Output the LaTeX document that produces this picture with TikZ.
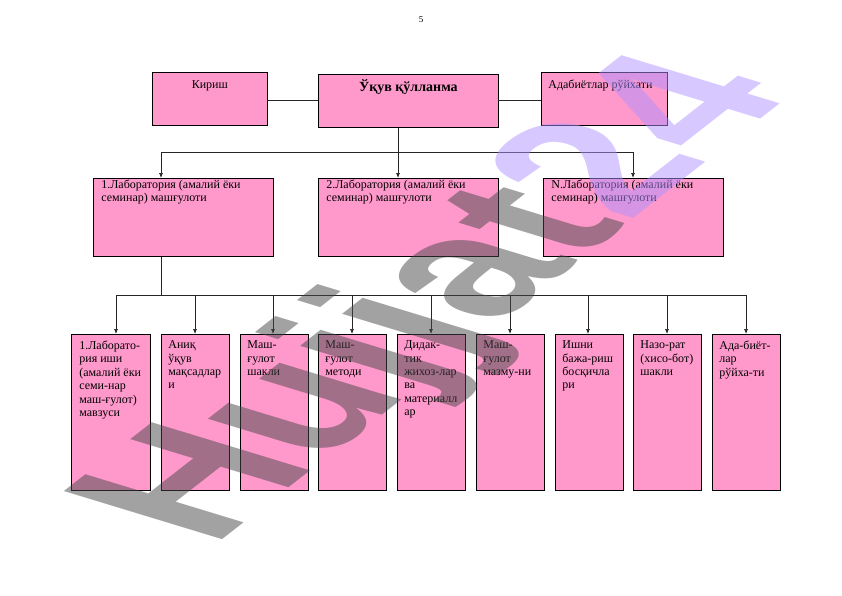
\documentclass[tikz,border=0pt]{standalone}
\usepackage{fontspec}
\setmainfont{Liberation Serif}
\newfontfamily\wmfont{Liberation Sans}
\usetikzlibrary{arrows.meta}
\definecolor{boxpink}{RGB}{255,153,204}
\definecolor{wmgray}{RGB}{70,70,70}
\definecolor{wmlav}{RGB}{175,145,255}
% #1 width, #2 height, #3 left indent, #4 top space, #5 text
\newcommand{\bxt}[5]{\parbox[c][#2][t]{#1}{\raggedright\leftskip=#3\relax\vspace*{#4}#5\par}}
\tikzset{
  box/.style={draw=black, line width=0.7pt, fill=boxpink, inner sep=0pt, anchor=north west, font=\fontsize{12}{12.3}\selectfont},
  lowbox/.style={box, font=\fontsize{12}{13.4}\selectfont},
  ln/.style={draw=black!85, line width=0.7pt},
  arr/.style={ln, -{Latex[length=5pt,width=4pt]}}
}
\begin{document}
\begin{tikzpicture}[x=1pt,y=-1pt]
\useasboundingbox (0,0) rectangle (842,596);
\node (pg) at (421,20) {\fontsize{9}{10}\selectfont 5};
% top row
\node[box] (kir) at (152,72) {\bxt{115pt}{53pt}{0pt}{8pt}{\centering Кириш}};
\node[box] (main) at (318,74) {\bxt{180pt}{53pt}{0pt}{5pt}{\centering\fontsize{14}{16}\selectfont\bfseries Ўқув қўлланма}};
\node[box] (adab) at (541,72) {\bxt{126pt}{53pt}{7pt}{7.5pt}{Адабиётлар рўйхати}};
% middle row
\node[box] (m1) at (93,178) {\bxt{180pt}{78pt}{8pt}{2pt}{1.Лаборатория (амалий ёки\\семинар) машғулоти}};
\node[box] (m2) at (318,178) {\bxt{180pt}{78pt}{8pt}{2pt}{2.Лаборатория (амалий ёки\\семинар) машғулоти}};
\node[box] (m3) at (543,178) {\bxt{180pt}{78pt}{8pt}{2pt}{N.Лаборатория (амалий ёки\\семинар) машғулоти}};
% bottom row
\node[lowbox] (b1) at (71,334) {\bxt{79pt}{156pt}{8pt}{6.5pt}{1.Лаборато-\\рия иши\\(амалий ёки\\семи-нар\\маш-ғулот)\\мавзуси}};
\node[lowbox] (b2) at (161,334) {\bxt{68pt}{156pt}{7pt}{6.5pt}{Аниқ\\ўқув\\мақсадлар\\и}};
\node[lowbox] (b3) at (240,334) {\bxt{68pt}{156pt}{7pt}{6.5pt}{Маш-\\ғулот\\шакли}};
\node[lowbox] (b4) at (318,334) {\bxt{68pt}{156pt}{7pt}{6.5pt}{Маш-\\ғулот\\методи}};
\node[lowbox] (b5) at (397,334) {\bxt{68pt}{156pt}{7pt}{6.5pt}{Дидак-\\тик\\жихоз-лар\\ва\\материалл\\ар}};
\node[lowbox] (b6) at (476,334) {\bxt{68pt}{156pt}{7pt}{6.5pt}{Маш-\\ғулот\\мазму-ни}};
\node[lowbox] (b7) at (555,334) {\bxt{68pt}{156pt}{7pt}{6.5pt}{Ишни\\бажа-риш\\босқичла\\ри}};
\node[lowbox] (b8) at (633,334) {\bxt{68pt}{156pt}{7pt}{6.5pt}{Назо-рат\\(хисо-бот)\\шакли}};
\node[lowbox] (b9) at (712,334) {\bxt{68pt}{156pt}{7pt}{6.5pt}{Ада-биёт-\\лар\\рўйха-ти}};
% connectors top
\coordinate (hL) at (267,100);
\coordinate (hR) at (498,100);
\draw[ln] (hL) -- (hL -| main.west);
\draw[ln] (hR) -- (hR -| adab.west);
\coordinate (tL) at (161,152);
\coordinate (tM) at (398,152);
\coordinate (tR) at (633,152);
\draw[ln] (tL) -- (tR);
\draw[arr] (main.south -| tM) -- (m2.north -| tM);
\draw[arr] (tL) -- (m1.north -| tL);
\draw[arr] (tR) -- (m3.north -| tR);
% connectors bottom
\coordinate (bS) at (161,295);
\coordinate (c1) at (116,295);
\coordinate (c2) at (195,295);
\coordinate (c3) at (273,295);
\coordinate (c4) at (352,295);
\coordinate (c5) at (431,295);
\coordinate (c6) at (510,295);
\coordinate (c7) at (588,295);
\coordinate (c8) at (667,295);
\coordinate (c9) at (746,295);
\draw[ln] (m1.south -| bS) -- (bS);
\draw[ln] (c1) -- (c9);
\foreach \i in {1,...,9}{\draw[arr] (c\i) -- (b\i.north -| c\i);}
% watermark
\begin{scope}[cm={1.497,1.17,-2.3,0.70,(212,548)}]
\node[transform shape, anchor=base west, inner sep=0pt, text opacity=0.5, text=wmgray, font=\wmfont\bfseries\fontsize{100}{110}\selectfont] (wm) at (0,0) {Hujjat\textcolor{wmlav}{24}};
\end{scope}
\end{tikzpicture}
\end{document}
